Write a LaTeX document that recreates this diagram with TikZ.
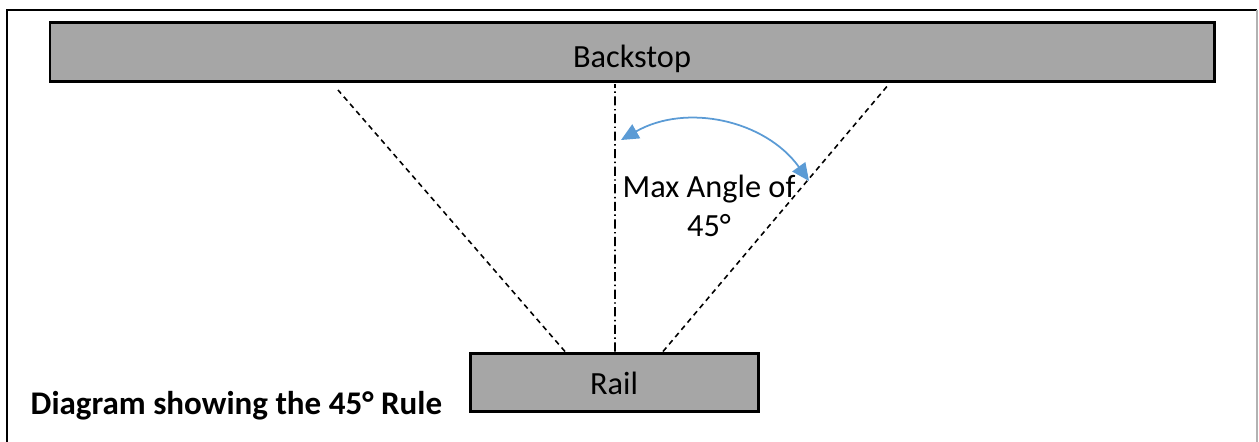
\documentclass[tikz,border=0pt]{standalone}
\usepackage{fontspec}
\setmainfont{Carlito}
\usepackage{xcolor}
\usetikzlibrary{arrows.meta}
\definecolor{boxgray}{HTML}{A6A6A6}
\definecolor{arcblue}{HTML}{5B9BD5}
\begin{document}
\begin{tikzpicture}[font=\fontsize{9.2}{11}\selectfont,
	plate/.style={draw, line width=0.85pt, fill=boxgray, inner sep=0pt, text height=0pt, text depth=0pt},
	sightline/.style={line width=0.45pt, dash pattern=on 1.5pt off 1.2pt},
	centreline/.style={line width=0.45pt, dash pattern=on 2.6pt off 1pt on 0.4pt off 1pt}]
				\useasboundingbox (0,0) rectangle (12.59,-4.41);
				% Frame:
				\draw[line width=0.7pt] (0.07,-4.5) -- (0.07,-0.10) -- (12.57,-0.10);
				\draw[line width=0.4pt, gray!60] (12.57,-0.10) -- (12.57,-4.5);
				% Plates and lines:
				\node[plate, minimum width=11.64cm, minimum height=0.59cm] (backstop) at (6.32,-0.515){\raisebox{-4.5pt}{Backstop}};
				\node[plate, minimum width=2.88cm, minimum height=0.58cm] (rail) at (6.14,-3.82){\raisebox{-3.5pt}{Rail}};
				\coordinate (L) at (3.38,-0.90);
				\coordinate (R) at (8.89,-0.84);
				\coordinate (C) at (6.15,-0.84);
				\draw[sightline] ([xshift=-0.49cm]rail.north) -- (L);
				\draw[sightline] ([xshift=0.49cm]rail.north) -- (R);
				\draw[centreline] ([xshift=0.01cm]rail.north) -- (C);
				\coordinate (A1) at (8.09,-1.81);
				\coordinate (A2) at (6.21,-1.40);
				\draw[arcblue, line width=0.5pt, {Triangle[length=5pt,width=4.5pt]}-{Triangle[length=5pt,width=4.5pt]}] (A1) to[bend right=42] (A2);
				\node[align=center, inner sep=0pt] (angle) at (7.09,-2.06){Max Angle of\\45°};
				\node[anchor=west, inner sep=0pt, font=\fontsize{9.4}{11}\selectfont\bfseries] (title) at (0.30,-4.06){Diagram showing the 45° Rule};
\end{tikzpicture}
\end{document}
